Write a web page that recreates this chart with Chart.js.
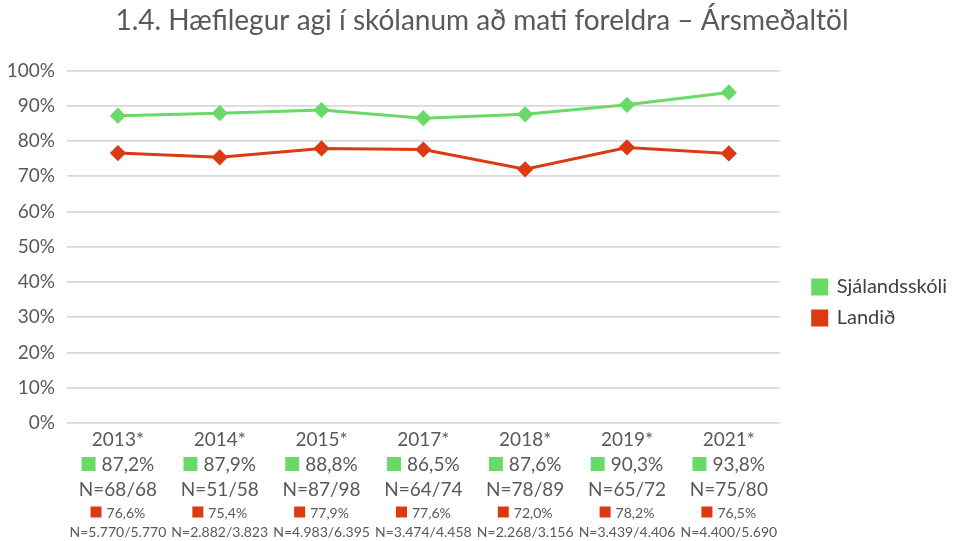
<!DOCTYPE html>
<html>
<head>
<meta charset="utf-8">
<script src="https://cdn.jsdelivr.net/npm/chart.js@4"></script>
<style>
  html, body { margin: 0; padding: 0; background: #fff; }
  #wrap { width: 953px; height: 541px; }
</style>
</head>
<body>
<div id="wrap"><canvas id="chart"></canvas></div>
<script>
const years = ["2013*", "2014*", "2015*", "2017*", "2018*", "2019*", "2021*"];
const school = [87.2, 87.9, 88.8, 86.5, 87.6, 90.3, 93.8];
const country = [76.6, 75.4, 77.9, 77.6, 72.0, 78.2, 76.5];
const schoolN = ["68/68", "51/58", "87/98", "64/74", "78/89", "65/72", "75/80"];
const countryN = ["5.770/5.770", "2.882/3.823", "4.983/6.395", "3.474/4.458", "2.268/3.156", "3.439/4.406", "4.400/5.690"];

const GREEN = "#69d968";
const RED = "#dc3a12";
const TEXT = "#595959";
const FONT = "Lato, 'Open Sans', sans-serif";

const pct = v => v.toFixed(1).replace(".", ",") + "%";

// value table under the x axis, placed with the x scale
const tablePlugin = {
  id: "table",
  afterLayout(chart) {
    // nudge legend and title to where the original has them
    const lg = chart.legend;
    lg.left += 22; lg.right += 22;
    lg.top += 30; lg.bottom += 30;
    const tb = chart.titleBlock;
    tb.left += 12; tb.right += 12;
  },
  afterDraw(chart) {
    const ctx = chart.ctx;
    const xs = chart.scales.x;
    ctx.save();
    ctx.textBaseline = "middle";
    years.forEach((yr, i) => {
      const x = xs.getPixelForValue(i);
      ctx.fillStyle = TEXT;
      ctx.textAlign = "center";
      ctx.font = "19px " + FONT;
      ctx.fillText(yr, x, 440);
      ctx.fillText("N=" + schoolN[i], x, 490);

      // school row
      let t = pct(school[i]);
      let w = ctx.measureText(t).width;
      let sq = 14, gap = 6;
      let start = x - (sq + gap + w) / 2;
      ctx.fillStyle = GREEN;
      ctx.fillRect(start, 464 - sq / 2, sq, sq);
      ctx.fillStyle = TEXT;
      ctx.textAlign = "left";
      ctx.fillText(t, start + sq + gap, 465);

      // country row
      ctx.font = "14px " + FONT;
      t = pct(country[i]);
      w = ctx.measureText(t).width;
      sq = 11; gap = 5;
      start = x - (sq + gap + w) / 2;
      ctx.fillStyle = RED;
      ctx.fillRect(start, 512 - sq / 2, sq, sq);
      ctx.fillStyle = TEXT;
      ctx.fillText(t, start + sq + gap, 513);
      ctx.textAlign = "center";
      ctx.fillText("N=" + countryN[i], x, 532);
    });
    ctx.restore();
  }
};

new Chart(document.getElementById("chart"), {
  type: "line",
  data: {
    labels: years,
    datasets: [
      {
        label: "Sjálandsskóli",
        data: school,
        borderColor: GREEN,
        backgroundColor: GREEN,
        borderWidth: 3,
        pointStyle: "rectRot",
        pointRadius: 6,
        pointHoverRadius: 6,
        tension: 0
      },
      {
        label: "Landið",
        data: country,
        borderColor: RED,
        backgroundColor: RED,
        borderWidth: 3,
        pointStyle: "rectRot",
        pointRadius: 6,
        pointHoverRadius: 6,
        tension: 0
      }
    ]
  },
  options: {
    responsive: true,
    maintainAspectRatio: false,
    animation: false,
    layout: { padding: { left: 5, right: 18, top: 4, bottom: 0 } },
    plugins: {
      title: {
        display: true,
        text: "1.4. Hæfilegur agi í skólanum að mati foreldra – Ársmeðaltöl",
        color: TEXT,
        font: { family: FONT, size: 28, weight: "normal" },
        padding: { top: 0, bottom: 33 }
      },
      legend: {
        position: "right",
        labels: {
          color: "#404040",
          font: { family: FONT, size: 20 },
          boxWidth: 14,
          boxHeight: 14,
          padding: 11
        }
      },
      tooltip: { enabled: false }
    },
    scales: {
      x: {
        offset: true,
        grid: { display: false },
        border: { display: false },
        ticks: { display: false },
        afterFit: s => { s.height = 118; }
      },
      y: {
        min: 0,
        max: 100,
        border: { display: false },
        grid: { color: "#d9d9d9", lineWidth: 1.7, drawTicks: false },
        ticks: {
          stepSize: 10,
          padding: 12,
          color: TEXT,
          font: { family: FONT, size: 19 },
          callback: v => v + "%"
        },
        afterFit: s => { s.width = 62; }
      }
    }
  },
  plugins: [tablePlugin]
});
</script>
</body>
</html>
